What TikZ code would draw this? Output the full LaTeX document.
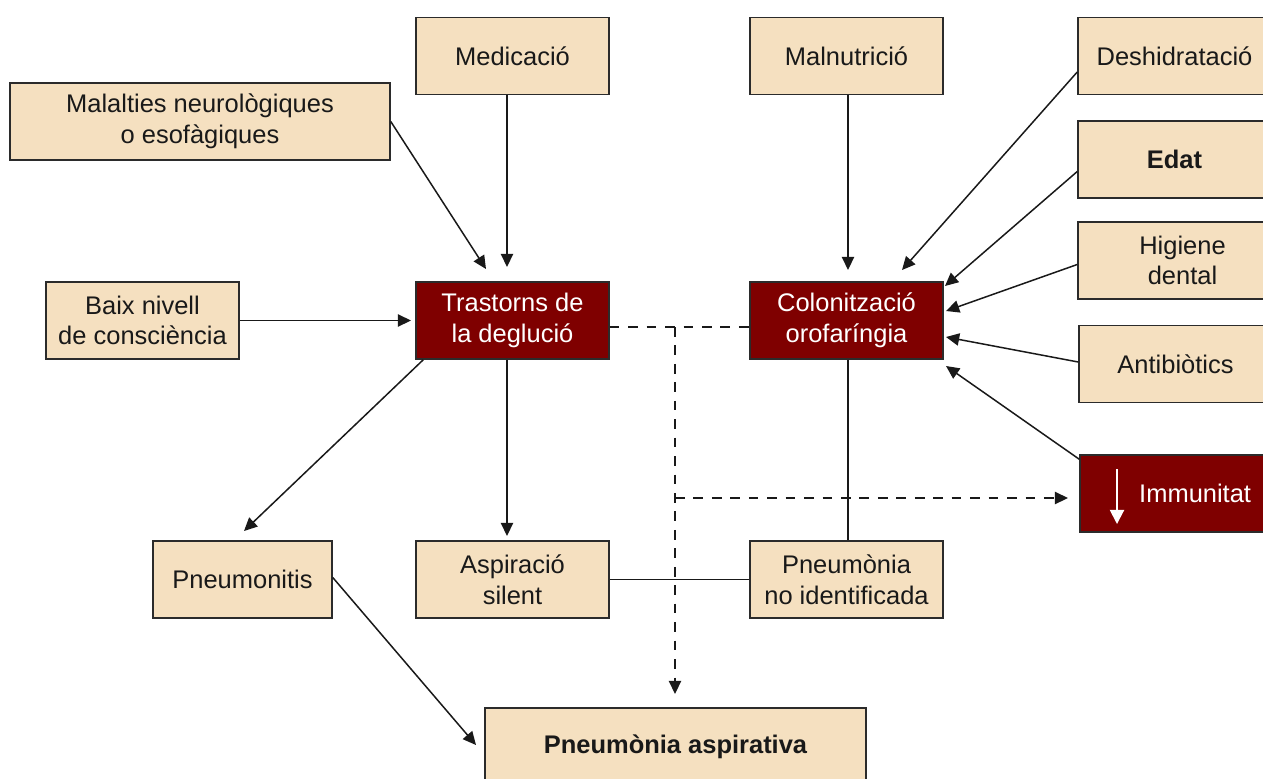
\documentclass[tikz,border=0pt]{standalone}
\usepackage{fontspec}
\setmainfont{Liberation Sans}
\usetikzlibrary{arrows.meta,calc}
\definecolor{beige}{HTML}{F5E0C0}
\definecolor{dred}{HTML}{7F0000}
\definecolor{edge}{HTML}{2B2B2B}
\begin{document}
\begin{tikzpicture}[x=0.02cm,y=-0.02cm,
  font=\fontsize{14.5}{17.5}\selectfont,
  box/.style={draw=edge,line width=0.9pt,fill=beige,text=black!90,align=center,
    minimum width=3.86cm,minimum height=1.54cm,inner sep=2pt},
  redbox/.style={box,fill=dred,text=white},
  arr/.style={draw=black!90,line width=0.85pt,-{Triangle[length=7.5pt,width=7pt]}},
  ln/.style={draw=black!90,line width=0.85pt},
  dsh/.style={ln,dash pattern=on 5.5pt off 5pt}]
\clip (0,0) rectangle (1263,778);
\fill[white] (0,0) rectangle (1263,778);
% nodes
\node[box] (med) at (512.5,56) {Medicació};
\node[box] (maln) at (846.5,56) {Malnutrició};
\node[box] (desh) at (1174.5,56) {Deshidratació};
\node[box,minimum width=7.6cm] (malt) at (200,121.5) {Malalties neurològiques\\o esofàgiques};
\node[box] (edat) at (1174.5,159.5) {\bfseries Edat};
\node[box,minimum width=4.18cm] (hig) at (1182.5,260.5) {Higiene\\dental};
\node[box] (anti) at (1175.5,364) {Antibiòtics};
\node[redbox] (imm) at (1176.5,493.5) {};
\node[text=white,anchor=west] (immt) at (1133,493.5) {Immunitat};
\node[box] (baix) at (142.5,320.5) {Baix nivell\\de consciència};
\node[redbox] (tras) at (512.5,320.5) {Trastorns de\\la deglució};
\node[redbox] (colo) at (846.5,320.5) {Colonització\\orofaríngia};
\node[box,minimum width=3.58cm] (pnit) at (242.5,579.5) {Pneumonitis};
\node[box] (asp) at (512.5,579.5) {Aspiració\\silent};
\node[box] (pni) at (846.5,579.5) {Pneumònia\\no identificada};
\node[box,minimum width=7.62cm] (pasp) at (675.5,746.5) {\bfseries Pneumònia aspirativa};
% white down arrow in Immunitat
\coordinate (ia) at (1117,469);
\coordinate (ib) at (1117,524);
\draw[white,line width=1.1pt,-{Triangle[length=8pt,width=8pt]}] (ia) -- (ib);
% arrow tips
\coordinate (t1) at (486,269);
\coordinate (t2) at (507,267);
\coordinate (t3) at (411,320.5);
\coordinate (t4) at (848,270);
\coordinate (t5) at (902,270);
\coordinate (t6) at (945,286);
\coordinate (t7) at (946,311);
\coordinate (t8) at (946,337);
\coordinate (t9) at (946,366);
\coordinate (t10) at (244,531);
\coordinate (t11) at (507,536);
\coordinate (t12) at (476,745);
\coordinate (t13) at (675,694);
\coordinate (t14) at (1068,498);
\coordinate (dj) at (675,327);
\coordinate (dk) at (675,498);
% connectors
\draw[arr] (malt.east) -- (t1);
\draw[arr] (med.south -| t2) -- (t2);
\draw[arr] (baix.east) -- (t3);
\draw[arr] (maln.south -| t4) -- (t4);
\draw[arr] ($(desh.west)+(0,16)$) -- (t5);
\draw[arr] ($(edat.west)+(0,12)$) -- (t6);
\draw[arr] ($(hig.west)+(0,4)$) -- (t7);
\draw[arr] ($(anti.west)+(0,-2)$) -- (t8);
\draw[arr] ($(imm.north west)+(0,5)$) -- (t9);
\draw[arr] ($(tras.south west)+(8,0)$) -- (t10);
\draw[arr] (tras.south -| t11) -- (t11);
\draw[arr] ($(pnit.east)+(0,-2)$) -- (t12);
\draw[ln] (colo.south -| t4) -- (pni.north -| t4);
\draw[ln] (asp.east) -- (pni.west);
\draw[dsh] (tras.east |- dj) -- (colo.west |- dj);
\draw[dsh,-{Triangle[length=7.5pt,width=7pt]}] (dj) -- (t13);
\draw[dsh,-{Triangle[length=7.5pt,width=7pt]}] (dk) -- (t14);
\end{tikzpicture}
\end{document}
